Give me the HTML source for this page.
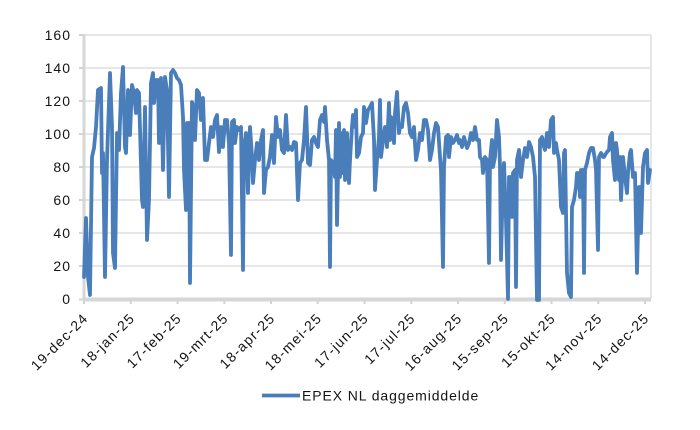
<!DOCTYPE html>
<html>
<head>
<meta charset="utf-8">
<style>
html,body{margin:0;padding:0;background:#fff;}
svg{display:block;}
text{font-family:"Liberation Sans",Arial,sans-serif;fill:#141414;}
.yl text{font-size:14px;letter-spacing:1px;}
.xl text{font-size:14px;letter-spacing:1.2px;}
.lg{font-size:14px;letter-spacing:0.9px;}
</style>
</head>
<body>
<svg width="700" height="430" viewBox="0 0 700 430" xmlns="http://www.w3.org/2000/svg">
<rect width="700" height="430" fill="#fff"/>
<!-- gridlines -->
<g stroke="#dedede" stroke-width="1.5">
<line x1="84" y1="35" x2="651" y2="35"/>
<line x1="84" y1="68" x2="651" y2="68"/>
<line x1="84" y1="101" x2="651" y2="101"/>
<line x1="84" y1="134" x2="651" y2="134"/>
<line x1="84" y1="167" x2="651" y2="167"/>
<line x1="84" y1="200" x2="651" y2="200"/>
<line x1="84" y1="233" x2="651" y2="233"/>
<line x1="84" y1="266" x2="651" y2="266"/>
<line x1="651" y1="35" x2="651" y2="299"/>
</g>
<!-- axis ticks -->
<g stroke="#d3d3d3" stroke-width="2">
<line x1="79" y1="35" x2="84" y2="35"/>
<line x1="79" y1="68" x2="84" y2="68"/>
<line x1="79" y1="101" x2="84" y2="101"/>
<line x1="79" y1="134" x2="84" y2="134"/>
<line x1="79" y1="167" x2="84" y2="167"/>
<line x1="79" y1="200" x2="84" y2="200"/>
<line x1="79" y1="233" x2="84" y2="233"/>
<line x1="79" y1="266" x2="84" y2="266"/>
<line x1="79" y1="299.5" x2="84" y2="299.5"/>
<line x1="84" y1="299" x2="84" y2="304"/>
<line x1="130.75" y1="299" x2="130.75" y2="304"/>
<line x1="177.5" y1="299" x2="177.5" y2="304"/>
<line x1="224.25" y1="299" x2="224.25" y2="304"/>
<line x1="271" y1="299" x2="271" y2="304"/>
<line x1="317.75" y1="299" x2="317.75" y2="304"/>
<line x1="364.5" y1="299" x2="364.5" y2="304"/>
<line x1="411.25" y1="299" x2="411.25" y2="304"/>
<line x1="458" y1="299" x2="458" y2="304"/>
<line x1="504.75" y1="299" x2="504.75" y2="304"/>
<line x1="551.5" y1="299" x2="551.5" y2="304"/>
<line x1="598.25" y1="299" x2="598.25" y2="304"/>
<line x1="645" y1="299" x2="645" y2="304"/>
</g>
<!-- axes -->
<line x1="84" y1="34" x2="84" y2="301" stroke="#d6d6d6" stroke-width="3"/>
<line x1="83" y1="299.5" x2="651" y2="299.5" stroke="#d6d6d6" stroke-width="4"/>
<!-- y labels -->
<g class="yl" text-anchor="end">
<text x="71" y="40">160</text>
<text x="71" y="73">140</text>
<text x="71" y="106">120</text>
<text x="71" y="139">100</text>
<text x="71" y="172">80</text>
<text x="71" y="205">60</text>
<text x="71" y="238">40</text>
<text x="71" y="271">20</text>
<text x="71" y="304">0</text>
</g>
<!-- x labels -->
<g class="xl" text-anchor="end">
<text transform="translate(89,319) rotate(-45)">19-dec-24</text>
<text transform="translate(135.75,319) rotate(-45)">18-jan-25</text>
<text transform="translate(182.5,319) rotate(-45)">17-feb-25</text>
<text transform="translate(229.25,319) rotate(-45)">19-mrt-25</text>
<text transform="translate(276,319) rotate(-45)">18-apr-25</text>
<text transform="translate(322.75,319) rotate(-45)">18-mei-25</text>
<text transform="translate(369.5,319) rotate(-45)">17-jun-25</text>
<text transform="translate(416.25,319) rotate(-45)">17-jul-25</text>
<text transform="translate(463,319) rotate(-45)">16-aug-25</text>
<text transform="translate(509.75,319) rotate(-45)">15-sep-25</text>
<text transform="translate(556.5,319) rotate(-45)">15-okt-25</text>
<text transform="translate(603.25,319) rotate(-45)">14-nov-25</text>
<text transform="translate(650,319) rotate(-45)">14-dec-25</text>
</g>
<!-- series -->
<polyline fill="none" stroke="#4a7ebb" stroke-width="3.8" stroke-linejoin="round" stroke-linecap="round" points="84,277 86,218 88,277 90,295 92,157 94,148 96,127 98,90 101,88 102,173 103,153 105,277 107,160 110,73 112,127 113,253 115,268 117,133 119,150 121,93 123,67 125,147 126,153 128,90 130,135 132,85 134,93 136,113 137,90 139,93 142,200 143,207 145,107 147,240 149,200 151,83 153,73 154,103 156,80 158,80 159,143 161,78 163,170 165,77 167,90 169,197 171,73 173,70 175,73 177,78 179,80 181,85 183,117 184,170 186,210 187,123 189,123 190,283 192,102 193,105 195,140 197,90 199,93 201,120 203,98 205,160 207,160 209,143 211,127 213,137 215,120 217,115 219,152 221,127 223,147 225,120 227,120 229,143 231,255 232,122 234,120 235,143 237,127 239,130 241,127 243,270 244,147 246,133 248,193 250,127 252,157 253,183 255,160 257,143 259,160 261,140 263,130 264,193 266,170 268,167 270,157 272,135 274,163 276,117 278,137 280,130 282,150 284,153 286,115 288,150 290,147 292,150 294,142 296,143 298,200 300,163 302,160 304,140 306,107 308,163 310,165 312,140 314,137 316,143 318,147 320,120 322,115 324,122 325,107 327,140 329,160 330,267 331,160 333,163 335,177 336,130 337,225 339,123 340,177 341,133 343,173 344,130 345,180 347,133 349,183 350,160 352,127 353,115 355,127 356,110 357,157 359,153 361,137 363,133 364,107 366,123 368,110 370,107 372,103 374,140 375,190 377,160 379,137 380,100 381,157 383,140 385,127 387,147 389,103 390,140 391,117 393,120 394,143 395,113 397,92 399,133 400,127 402,127 404,107 406,103 408,113 410,133 412,137 414,127 416,160 418,150 420,133 422,140 424,120 426,120 428,130 430,160 432,150 434,133 436,123 438,127 440,157 441,170 443,267 444,167 446,137 448,135 449,157 451,137 453,143 455,140 457,135 459,143 460,140 462,147 464,137 467,148 469,143 471,133 473,140 475,127 477,140 479,140 480,157 482,160 483,173 485,157 487,160 489,263 490,160 492,140 493,167 495,157 497,120 499,137 500,167 501,260 503,177 504,163 506,220 508,299 509,177 511,177 512,217 513,173 515,170 516,287 517,160 519,150 521,177 523,160 525,148 527,157 529,142 531,147 533,157 535,177 537,300 539,300 540,140 542,137 544,147 545,150 547,133 549,147 551,120 553,117 554,153 556,143 557,150 559,160 561,207 563,213 564,153 565,150 567,273 569,293 571,297 572,207 574,200 576,187 577,173 579,173 580,197 581,170 583,170 584,273 585,170 587,163 589,153 591,148 593,148 595,160 596,170 598,250 599,157 601,153 603,157 604,157 605,155 607,152 609,150 610,137 612,133 613,160 615,180 616,143 617,150 619,180 620,157 621,200 623,157 625,177 627,193 628,173 630,153 631,150 633,177 635,173 637,273 639,187 640,187 641,233 643,167 645,153 647,150 648,183 650,170"/>
<!-- legend -->
<line x1="262" y1="395.5" x2="300" y2="395.5" stroke="#4a7ebb" stroke-width="3.8"/>
<text class="lg" x="302" y="400.5">EPEX NL daggemiddelde</text>
</svg>
</body>
</html>
